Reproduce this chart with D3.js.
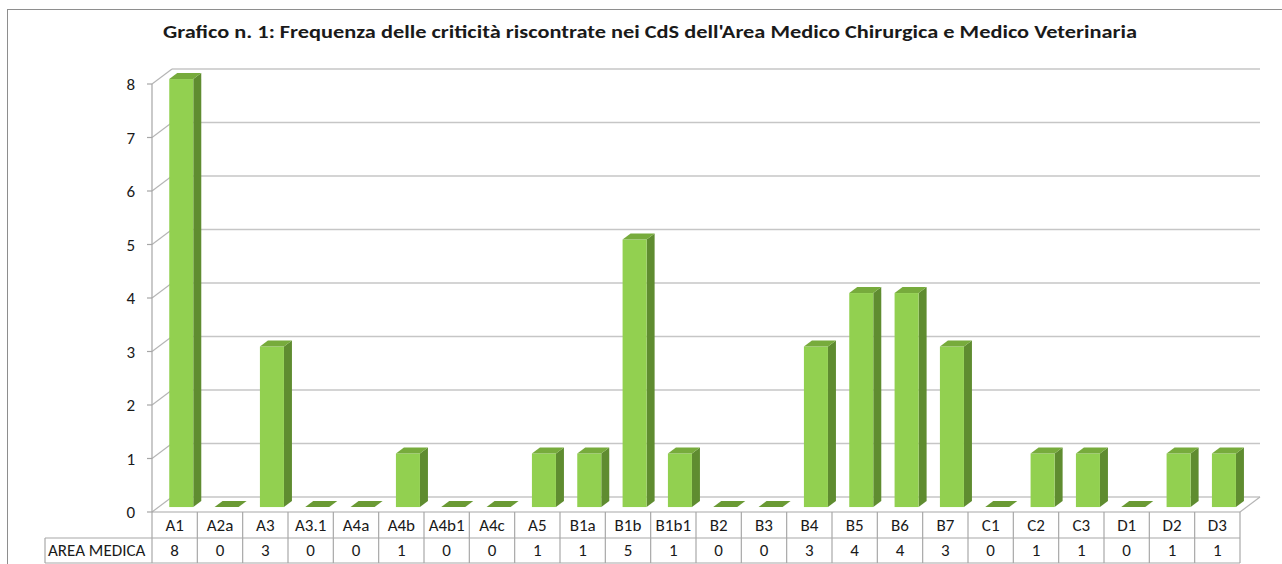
<!DOCTYPE html>
<html><head><meta charset="utf-8">
<script src="https://cdn.jsdelivr.net/npm/d3@7"></script>
<style>
html,body{margin:0;padding:0;background:#fff;}
svg{display:block;}
text{font-family:Carlito,"Open Sans","Liberation Sans",sans-serif;fill:#1a1a1a;}
</style></head>
<body>
<svg id="chart" width="1282" height="564"></svg>
<script>
const titleText = "Grafico n. 1: Frequenza delle criticità riscontrate nei CdS dell'Area Medico Chirurgica e Medico Veterinaria";
const categories = ["A1","A2a","A3","A3.1","A4a","A4b","A4b1","A4c","A5","B1a","B1b","B1b1","B2","B3","B4","B5","B6","B7","C1","C2","C3","D1","D2","D3"];
const seriesName = "AREA MEDICA";
const values = [8,0,3,0,0,1,0,0,1,1,5,1,0,0,3,4,4,3,0,1,1,0,1,1];
const yTicks = [0,1,2,3,4,5,6,7,8];

const svg = d3.select("#chart");
const W = 1282, H = 564;
const left = 152, right = 1240, yBottom = 512, yTop = 84;
const DX = 20, DY = -15; // depth vector of the 3D box

const x = d3.scaleBand().domain(categories).range([left, right]).padding(0);
const y = d3.scaleLinear().domain([0, 8]).range([yBottom, yTop]);
const depth = d3.scaleLinear().domain([0, 1]).range([0, 1]);
const off = t => [DX * depth(t), DY * depth(t)];

// outer chart border
svg.append("rect").attr("x", 7.5).attr("y", 9.5).attr("width", W + 10).attr("height", H + 10)
  .attr("fill", "none").attr("stroke", "#8e8e8e").attr("stroke-width", 1);

// title
const tt = svg.append("text").attr("x", 650).attr("y", 38).attr("text-anchor", "middle")
  .attr("font-size", 19).attr("font-weight", "bold").text(titleText);
const tl = tt.node().getComputedTextLength();
if (Math.abs(tl - 974) > 4) tt.attr("textLength", 974).attr("lengthAdjust", "spacingAndGlyphs");

const gridColor = "#c6c6c6";
const [bx, by] = off(1);

// back wall gridlines
svg.append("g").selectAll("line").data(yTicks).join("line")
  .attr("x1", left + bx).attr("x2", right + bx)
  .attr("y1", d => y(d) + by).attr("y2", d => y(d) + by)
  .attr("stroke", gridColor).attr("stroke-width", 1.6);

// left side-wall diagonals
svg.append("g").selectAll("line").data(yTicks).join("line")
  .attr("x1", left).attr("x2", left + bx)
  .attr("y1", d => y(d)).attr("y2", d => y(d) + by)
  .attr("stroke", "#b5b5b5").attr("stroke-width", 1.2);

// floor right edge
svg.append("line").attr("x1", right).attr("y1", yBottom).attr("x2", right + bx).attr("y2", yBottom + by)
  .attr("stroke", "#b5b5b5").attr("stroke-width", 1.2);

// front vertical axis and ticks
svg.append("line").attr("x1", left).attr("x2", left).attr("y1", y(0)).attr("y2", y(8))
  .attr("stroke", "#a6a6a6").attr("stroke-width", 1.2);
svg.append("g").selectAll("line").data(yTicks).join("line")
  .attr("x1", left - 5).attr("x2", left).attr("y1", d => y(d)).attr("y2", d => y(d))
  .attr("stroke", "#a6a6a6").attr("stroke-width", 1.2);
svg.append("g").selectAll("text").data(yTicks).join("text")
  .attr("x", 135).attr("y", d => y(d) + 6).attr("text-anchor", "end")
  .attr("font-size", 17).text(d => d);

// bars
const fFront = "#92d050", fSide = "#5f8c30", fTop = "#77ab3c";
const t1 = 0.33, t2 = 0.73, barFrac = 0.53;
const gBars = svg.append("g");
categories.forEach((c, i) => {
  const v = values[i];
  const bw = x.bandwidth() * barFrac;
  const [ox1, oy1] = off(t1), [ox2, oy2] = off(t2);
  const x0 = x(c) + (x.bandwidth() - bw) / 2 + ox1;
  const x1 = x0 + bw;
  const yb = y(0) + oy1, yt = y(v) + oy1;
  const sdx = ox2 - ox1, sdy = oy2 - oy1;
  if (v > 0) {
    gBars.append("polygon").attr("fill", fSide)
      .attr("points", [[x1, yt], [x1 + sdx, yt + sdy], [x1 + sdx, yb + sdy], [x1, yb]].join(" "));
    gBars.append("rect").attr("fill", fFront).attr("x", x0).attr("y", yt).attr("width", bw).attr("height", yb - yt);
  }
  gBars.append("polygon").attr("fill", v > 0 ? fTop : "#6a9a34")
    .attr("points", [[x0, yt], [x0 + sdx, yt + sdy], [x1 + sdx, yt + sdy], [x1, yt]].join(" "));
});

// data table
const tColor = "#a8a8a8";
const r1 = yBottom, r2 = 538, r3 = 563, hdrLeft = 45;
const gT = svg.append("g").attr("stroke", tColor).attr("stroke-width", 1.2);
gT.append("line").attr("x1", left).attr("x2", right).attr("y1", r1).attr("y2", r1);
gT.append("line").attr("x1", hdrLeft).attr("x2", right).attr("y1", r2).attr("y2", r2);
gT.append("line").attr("x1", hdrLeft).attr("x2", right).attr("y1", r3).attr("y2", r3);
gT.append("line").attr("x1", hdrLeft).attr("x2", hdrLeft).attr("y1", r2).attr("y2", r3);
const bounds = categories.map(c => x(c)).concat([right]);
gT.selectAll("line.v").data(bounds).join("line").attr("class", "v")
  .attr("x1", d => d).attr("x2", d => d).attr("y1", r1).attr("y2", r3);

svg.append("g").selectAll("text").data(categories).join("text")
  .attr("x", d => x(d) + x.bandwidth() / 2).attr("y", 531).attr("text-anchor", "middle")
  .attr("font-size", 17).text(d => d);
svg.append("g").selectAll("text").data(values).join("text")
  .attr("x", (d, i) => x(categories[i]) + x.bandwidth() / 2).attr("y", 556).attr("text-anchor", "middle")
  .attr("font-size", 17).text(d => d);
svg.append("text").attr("x", 48).attr("y", 556).attr("font-size", 17).text(seriesName);
</script>
</body></html>
